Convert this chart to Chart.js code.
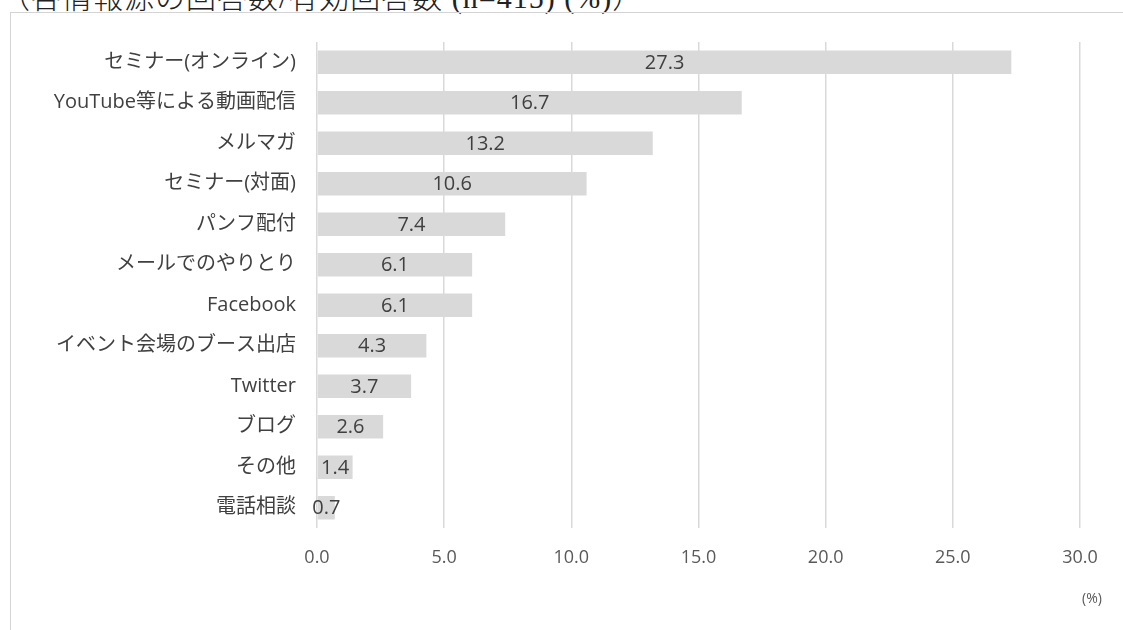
<!DOCTYPE html>
<html lang="ja">
<head>
<meta charset="utf-8">
<script src="https://cdn.jsdelivr.net/npm/chart.js@4.4.1/dist/chart.umd.min.js"></script>
<style>
  html, body { margin: 0; padding: 0; background: #fff; }
  body { width: 1123px; height: 630px; position: relative; overflow: hidden; }
  #title {
    position: absolute; left: 0; top: -17px; line-height: 30px;
    font-family: "Liberation Serif", "Noto Sans CJK JP", serif; font-size: 30px; color: #222;
    white-space: nowrap; font-weight: 300; letter-spacing: 1px;
  }
  #frame {
    position: absolute; left: 10px; top: 12px; width: 1130px; height: 640px;
    border: 1px solid #d4d4d4; box-sizing: border-box;
  }
  #wrap { position: absolute; left: 0; top: 0; width: 1123px; height: 630px; }
  #unit {
    position: absolute; left: 1082px; top: 588px;
    font-family: "Open Sans", sans-serif; font-size: 14px; color: #595959;
  }
</style>
</head>
<body>
<div id="title">（各情報源の回答数/有効回答数 (n=415) (%)）</div>
<div id="frame"></div>
<div id="wrap"><canvas id="infoChart" width="1123" height="630"></canvas></div>
<div id="unit">(%)</div>
<script>
// 情報源ごとの回答割合
var sources = [
  'セミナー(オンライン)', 'YouTube等による動画配信', 'メルマガ', 'セミナー(対面)',
  'パンフ配付', 'メールでのやりとり', 'Facebook', 'イベント会場のブース出店',
  'Twitter', 'ブログ', 'その他', '電話相談'
];
var shares = [27.3, 16.7, 13.2, 10.6, 7.4, 6.1, 6.1, 4.3, 3.7, 2.6, 1.4, 0.7];
var xTicks = [0, 5, 10, 15, 20, 25, 30];

var labelFont = '"Open Sans", "Noto Sans CJK JP", sans-serif';

// 棒の中央に値を表示
var valueLabels = {
  id: 'valueLabels',
  afterDatasetsDraw: function(chart) {
    var ctx = chart.ctx;
    var meta = chart.getDatasetMeta(0);
    ctx.save();
    ctx.font = '20px ' + labelFont;
    ctx.fillStyle = '#404040';
    ctx.textAlign = 'center';
    ctx.textBaseline = 'middle';
    meta.data.forEach(function(bar, i) {
      var cx = (bar.x + bar.base) / 2;
      ctx.fillText(shares[i].toFixed(1), cx, bar.y + 1);
    });
    ctx.restore();
  }
};

new Chart(document.getElementById('infoChart'), {
  type: 'bar',
  data: {
    labels: sources,
    datasets: [{
      data: shares,
      backgroundColor: '#d9d9d9',
      barPercentage: 0.58,
      categoryPercentage: 1.0
    }]
  },
  options: {
    indexAxis: 'y',
    responsive: false,
    animation: false,
    layout: { padding: { top: 42, right: 43, left: 0, bottom: 0 } },
    plugins: { legend: { display: false }, tooltip: { enabled: false } },
    scales: {
      x: {
        min: 0,
        max: 30,
        afterFit: function(scale) { scale.height = 102; },
        afterBuildTicks: function(scale) {
          scale.ticks = xTicks.map(function(v) { return { value: v }; });
        },
        grid: { color: '#d9d9d9', lineWidth: 1.5, drawTicks: false },
        border: { display: false },
        ticks: {
          padding: 19,
          color: '#595959',
          font: { size: 18, family: labelFont },
          callback: function(v) { return Number(v).toFixed(1); }
        }
      },
      y: {
        afterFit: function(scale) { scale.width = 317; },
        grid: { display: false, drawTicks: false },
        border: { display: false },
        ticks: {
          padding: 21,
          color: '#404040',
          font: { size: 20, family: labelFont }
        }
      }
    }
  },
  plugins: [valueLabels]
});
</script>
</body>
</html>
